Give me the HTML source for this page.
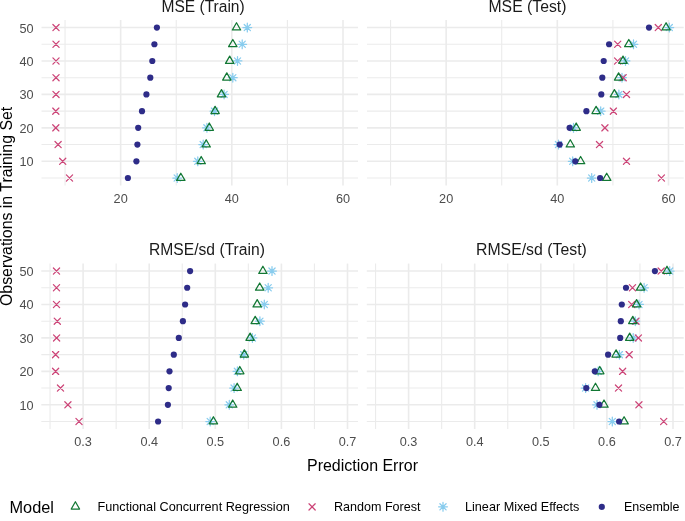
<!DOCTYPE html>
<html><head><meta charset="utf-8"><style>
html,body{margin:0;padding:0;background:#fff;}
body{width:685px;height:521px;overflow:hidden;}
svg{display:block;will-change:transform;font-family:"Liberation Sans",sans-serif;}
</style></head><body>
<svg width="685" height="521" viewBox="0 0 685 521">
<rect width="685" height="521" fill="#fff"/>
<line x1="65.05" y1="20.0" x2="65.05" y2="185.5" stroke="#EBEBEB" stroke-width="1.1"/>
<line x1="176.23" y1="20.0" x2="176.23" y2="185.5" stroke="#EBEBEB" stroke-width="1.1"/>
<line x1="287.41" y1="20.0" x2="287.41" y2="185.5" stroke="#EBEBEB" stroke-width="1.1"/>
<line x1="120.64" y1="20.0" x2="120.64" y2="185.5" stroke="#EBEBEB" stroke-width="1.6"/>
<line x1="231.82" y1="20.0" x2="231.82" y2="185.5" stroke="#EBEBEB" stroke-width="1.6"/>
<line x1="343.00" y1="20.0" x2="343.00" y2="185.5" stroke="#EBEBEB" stroke-width="1.6"/>
<line x1="41.5" y1="27.55" x2="358.0" y2="27.55" stroke="#EBEBEB" stroke-width="1.6"/>
<line x1="41.5" y1="44.27" x2="358.0" y2="44.27" stroke="#EBEBEB" stroke-width="1.1"/>
<line x1="41.5" y1="60.98" x2="358.0" y2="60.98" stroke="#EBEBEB" stroke-width="1.6"/>
<line x1="41.5" y1="77.70" x2="358.0" y2="77.70" stroke="#EBEBEB" stroke-width="1.1"/>
<line x1="41.5" y1="94.42" x2="358.0" y2="94.42" stroke="#EBEBEB" stroke-width="1.6"/>
<line x1="41.5" y1="111.14" x2="358.0" y2="111.14" stroke="#EBEBEB" stroke-width="1.1"/>
<line x1="41.5" y1="127.86" x2="358.0" y2="127.86" stroke="#EBEBEB" stroke-width="1.6"/>
<line x1="41.5" y1="144.57" x2="358.0" y2="144.57" stroke="#EBEBEB" stroke-width="1.1"/>
<line x1="41.5" y1="161.29" x2="358.0" y2="161.29" stroke="#EBEBEB" stroke-width="1.6"/>
<line x1="41.5" y1="178.01" x2="358.0" y2="178.01" stroke="#EBEBEB" stroke-width="1.1"/>
<path d="M244.20,24.45L250.40,30.65M244.20,30.65L250.40,24.45M242.92,27.55L251.68,27.55M247.30,23.17L247.30,31.93" stroke="#88CCEE" stroke-width="1.25" stroke-linecap="round" fill="none"/>
<path d="M239.10,41.17L245.30,47.37M239.10,47.37L245.30,41.17M237.82,44.27L246.58,44.27M242.20,39.88L242.20,48.65" stroke="#88CCEE" stroke-width="1.25" stroke-linecap="round" fill="none"/>
<path d="M234.40,57.88L240.60,64.08M234.40,64.08L240.60,57.88M233.12,60.98L241.88,60.98M237.50,56.60L237.50,65.37" stroke="#88CCEE" stroke-width="1.25" stroke-linecap="round" fill="none"/>
<path d="M229.70,74.60L235.90,80.80M229.70,80.80L235.90,74.60M228.42,77.70L237.18,77.70M232.80,73.32L232.80,82.09" stroke="#88CCEE" stroke-width="1.25" stroke-linecap="round" fill="none"/>
<path d="M221.00,91.32L227.20,97.52M221.00,97.52L227.20,91.32M219.72,94.42L228.48,94.42M224.10,90.04L224.10,98.80" stroke="#88CCEE" stroke-width="1.25" stroke-linecap="round" fill="none"/>
<path d="M211.40,108.04L217.60,114.24M211.40,114.24L217.60,108.04M210.12,111.14L218.88,111.14M214.50,106.75L214.50,115.52" stroke="#88CCEE" stroke-width="1.25" stroke-linecap="round" fill="none"/>
<path d="M203.80,124.76L210.00,130.96M203.80,130.96L210.00,124.76M202.52,127.86L211.28,127.86M206.90,123.47L206.90,132.24" stroke="#88CCEE" stroke-width="1.25" stroke-linecap="round" fill="none"/>
<path d="M200.10,141.47L206.30,147.67M200.10,147.67L206.30,141.47M198.82,144.57L207.58,144.57M203.20,140.19L203.20,148.96" stroke="#88CCEE" stroke-width="1.25" stroke-linecap="round" fill="none"/>
<path d="M194.70,158.19L200.90,164.39M194.70,164.39L200.90,158.19M193.42,161.29L202.18,161.29M197.80,156.91L197.80,165.67" stroke="#88CCEE" stroke-width="1.25" stroke-linecap="round" fill="none"/>
<path d="M174.10,174.91L180.30,181.11M174.10,181.11L180.30,174.91M172.82,178.01L181.58,178.01M177.20,173.62L177.20,182.39" stroke="#88CCEE" stroke-width="1.25" stroke-linecap="round" fill="none"/>
<path d="M52.90,24.45L59.10,30.65M52.90,30.65L59.10,24.45" stroke="#CC4477" stroke-width="1.25" stroke-linecap="round" fill="none"/>
<path d="M52.90,41.17L59.10,47.37M52.90,47.37L59.10,41.17" stroke="#CC4477" stroke-width="1.25" stroke-linecap="round" fill="none"/>
<path d="M52.90,57.88L59.10,64.08M52.90,64.08L59.10,57.88" stroke="#CC4477" stroke-width="1.25" stroke-linecap="round" fill="none"/>
<path d="M52.90,74.60L59.10,80.80M52.90,80.80L59.10,74.60" stroke="#CC4477" stroke-width="1.25" stroke-linecap="round" fill="none"/>
<path d="M52.90,91.32L59.10,97.52M52.90,97.52L59.10,91.32" stroke="#CC4477" stroke-width="1.25" stroke-linecap="round" fill="none"/>
<path d="M52.70,108.04L58.90,114.24M52.70,114.24L58.90,108.04" stroke="#CC4477" stroke-width="1.25" stroke-linecap="round" fill="none"/>
<path d="M52.70,124.76L58.90,130.96M52.70,130.96L58.90,124.76" stroke="#CC4477" stroke-width="1.25" stroke-linecap="round" fill="none"/>
<path d="M55.00,141.47L61.20,147.67M55.00,147.67L61.20,141.47" stroke="#CC4477" stroke-width="1.25" stroke-linecap="round" fill="none"/>
<path d="M59.60,158.19L65.80,164.39M59.60,164.39L65.80,158.19" stroke="#CC4477" stroke-width="1.25" stroke-linecap="round" fill="none"/>
<path d="M66.40,174.91L72.60,181.11M66.40,181.11L72.60,174.91" stroke="#CC4477" stroke-width="1.25" stroke-linecap="round" fill="none"/>
<polygon points="236.50,22.73 240.68,29.96 232.32,29.96" fill="none" stroke="#117733" stroke-width="1.25" stroke-linejoin="round"/>
<polygon points="232.80,39.45 236.98,46.68 228.62,46.68" fill="none" stroke="#117733" stroke-width="1.25" stroke-linejoin="round"/>
<polygon points="229.70,56.16 233.88,63.40 225.52,63.40" fill="none" stroke="#117733" stroke-width="1.25" stroke-linejoin="round"/>
<polygon points="226.80,72.88 230.98,80.11 222.62,80.11" fill="none" stroke="#117733" stroke-width="1.25" stroke-linejoin="round"/>
<polygon points="221.50,89.60 225.68,96.83 217.32,96.83" fill="none" stroke="#117733" stroke-width="1.25" stroke-linejoin="round"/>
<polygon points="215.10,106.32 219.28,113.55 210.92,113.55" fill="none" stroke="#117733" stroke-width="1.25" stroke-linejoin="round"/>
<polygon points="209.30,123.03 213.48,130.27 205.12,130.27" fill="none" stroke="#117733" stroke-width="1.25" stroke-linejoin="round"/>
<polygon points="206.20,139.75 210.38,146.98 202.02,146.98" fill="none" stroke="#117733" stroke-width="1.25" stroke-linejoin="round"/>
<polygon points="201.20,156.47 205.38,163.70 197.02,163.70" fill="none" stroke="#117733" stroke-width="1.25" stroke-linejoin="round"/>
<polygon points="180.80,173.19 184.98,180.42 176.62,180.42" fill="none" stroke="#117733" stroke-width="1.25" stroke-linejoin="round"/>
<circle cx="156.90" cy="27.55" r="3.10" fill="#2E2C88"/>
<circle cx="154.40" cy="44.27" r="3.10" fill="#2E2C88"/>
<circle cx="152.30" cy="60.98" r="3.10" fill="#2E2C88"/>
<circle cx="150.30" cy="77.70" r="3.10" fill="#2E2C88"/>
<circle cx="146.40" cy="94.42" r="3.10" fill="#2E2C88"/>
<circle cx="142.00" cy="111.14" r="3.10" fill="#2E2C88"/>
<circle cx="138.20" cy="127.86" r="3.10" fill="#2E2C88"/>
<circle cx="137.40" cy="144.57" r="3.10" fill="#2E2C88"/>
<circle cx="136.40" cy="161.29" r="3.10" fill="#2E2C88"/>
<circle cx="127.90" cy="178.01" r="3.10" fill="#2E2C88"/>
<line x1="390.55" y1="20.0" x2="390.55" y2="185.5" stroke="#EBEBEB" stroke-width="1.1"/>
<line x1="501.73" y1="20.0" x2="501.73" y2="185.5" stroke="#EBEBEB" stroke-width="1.1"/>
<line x1="612.91" y1="20.0" x2="612.91" y2="185.5" stroke="#EBEBEB" stroke-width="1.1"/>
<line x1="446.14" y1="20.0" x2="446.14" y2="185.5" stroke="#EBEBEB" stroke-width="1.6"/>
<line x1="557.32" y1="20.0" x2="557.32" y2="185.5" stroke="#EBEBEB" stroke-width="1.6"/>
<line x1="668.50" y1="20.0" x2="668.50" y2="185.5" stroke="#EBEBEB" stroke-width="1.6"/>
<line x1="367.0" y1="27.55" x2="683.7" y2="27.55" stroke="#EBEBEB" stroke-width="1.6"/>
<line x1="367.0" y1="44.27" x2="683.7" y2="44.27" stroke="#EBEBEB" stroke-width="1.1"/>
<line x1="367.0" y1="60.98" x2="683.7" y2="60.98" stroke="#EBEBEB" stroke-width="1.6"/>
<line x1="367.0" y1="77.70" x2="683.7" y2="77.70" stroke="#EBEBEB" stroke-width="1.1"/>
<line x1="367.0" y1="94.42" x2="683.7" y2="94.42" stroke="#EBEBEB" stroke-width="1.6"/>
<line x1="367.0" y1="111.14" x2="683.7" y2="111.14" stroke="#EBEBEB" stroke-width="1.1"/>
<line x1="367.0" y1="127.86" x2="683.7" y2="127.86" stroke="#EBEBEB" stroke-width="1.6"/>
<line x1="367.0" y1="144.57" x2="683.7" y2="144.57" stroke="#EBEBEB" stroke-width="1.1"/>
<line x1="367.0" y1="161.29" x2="683.7" y2="161.29" stroke="#EBEBEB" stroke-width="1.6"/>
<line x1="367.0" y1="178.01" x2="683.7" y2="178.01" stroke="#EBEBEB" stroke-width="1.1"/>
<path d="M666.20,24.45L672.40,30.65M666.20,30.65L672.40,24.45M664.92,27.55L673.68,27.55M669.30,23.17L669.30,31.93" stroke="#88CCEE" stroke-width="1.25" stroke-linecap="round" fill="none"/>
<path d="M630.40,41.17L636.60,47.37M630.40,47.37L636.60,41.17M629.12,44.27L637.88,44.27M633.50,39.88L633.50,48.65" stroke="#88CCEE" stroke-width="1.25" stroke-linecap="round" fill="none"/>
<path d="M622.40,57.88L628.60,64.08M622.40,64.08L628.60,57.88M621.12,60.98L629.88,60.98M625.50,56.60L625.50,65.37" stroke="#88CCEE" stroke-width="1.25" stroke-linecap="round" fill="none"/>
<path d="M618.90,74.60L625.10,80.80M618.90,80.80L625.10,74.60M617.62,77.70L626.38,77.70M622.00,73.32L622.00,82.09" stroke="#88CCEE" stroke-width="1.25" stroke-linecap="round" fill="none"/>
<path d="M615.80,91.32L622.00,97.52M615.80,97.52L622.00,91.32M614.52,94.42L623.28,94.42M618.90,90.04L618.90,98.80" stroke="#88CCEE" stroke-width="1.25" stroke-linecap="round" fill="none"/>
<path d="M597.60,108.04L603.80,114.24M597.60,114.24L603.80,108.04M596.32,111.14L605.08,111.14M600.70,106.75L600.70,115.52" stroke="#88CCEE" stroke-width="1.25" stroke-linecap="round" fill="none"/>
<path d="M570.40,124.76L576.60,130.96M570.40,130.96L576.60,124.76M569.12,127.86L577.88,127.86M573.50,123.47L573.50,132.24" stroke="#88CCEE" stroke-width="1.25" stroke-linecap="round" fill="none"/>
<path d="M555.40,141.47L561.60,147.67M555.40,147.67L561.60,141.47M554.12,144.57L562.88,144.57M558.50,140.19L558.50,148.96" stroke="#88CCEE" stroke-width="1.25" stroke-linecap="round" fill="none"/>
<path d="M569.60,158.19L575.80,164.39M569.60,164.39L575.80,158.19M568.32,161.29L577.08,161.29M572.70,156.91L572.70,165.67" stroke="#88CCEE" stroke-width="1.25" stroke-linecap="round" fill="none"/>
<path d="M588.60,174.91L594.80,181.11M588.60,181.11L594.80,174.91M587.32,178.01L596.08,178.01M591.70,173.62L591.70,182.39" stroke="#88CCEE" stroke-width="1.25" stroke-linecap="round" fill="none"/>
<path d="M655.20,24.45L661.40,30.65M655.20,30.65L661.40,24.45" stroke="#CC4477" stroke-width="1.25" stroke-linecap="round" fill="none"/>
<path d="M614.60,41.17L620.80,47.37M614.60,47.37L620.80,41.17" stroke="#CC4477" stroke-width="1.25" stroke-linecap="round" fill="none"/>
<path d="M614.50,57.88L620.70,64.08M614.50,64.08L620.70,57.88" stroke="#CC4477" stroke-width="1.25" stroke-linecap="round" fill="none"/>
<path d="M620.10,74.60L626.30,80.80M620.10,80.80L626.30,74.60" stroke="#CC4477" stroke-width="1.25" stroke-linecap="round" fill="none"/>
<path d="M623.40,91.32L629.60,97.52M623.40,97.52L629.60,91.32" stroke="#CC4477" stroke-width="1.25" stroke-linecap="round" fill="none"/>
<path d="M610.30,108.04L616.50,114.24M610.30,114.24L616.50,108.04" stroke="#CC4477" stroke-width="1.25" stroke-linecap="round" fill="none"/>
<path d="M601.80,124.76L608.00,130.96M601.80,130.96L608.00,124.76" stroke="#CC4477" stroke-width="1.25" stroke-linecap="round" fill="none"/>
<path d="M596.40,141.47L602.60,147.67M596.40,147.67L602.60,141.47" stroke="#CC4477" stroke-width="1.25" stroke-linecap="round" fill="none"/>
<path d="M623.40,158.19L629.60,164.39M623.40,164.39L629.60,158.19" stroke="#CC4477" stroke-width="1.25" stroke-linecap="round" fill="none"/>
<path d="M658.30,174.91L664.50,181.11M658.30,181.11L664.50,174.91" stroke="#CC4477" stroke-width="1.25" stroke-linecap="round" fill="none"/>
<polygon points="666.10,22.73 670.28,29.96 661.92,29.96" fill="none" stroke="#117733" stroke-width="1.25" stroke-linejoin="round"/>
<polygon points="628.80,39.45 632.98,46.68 624.62,46.68" fill="none" stroke="#117733" stroke-width="1.25" stroke-linejoin="round"/>
<polygon points="623.00,56.16 627.18,63.40 618.82,63.40" fill="none" stroke="#117733" stroke-width="1.25" stroke-linejoin="round"/>
<polygon points="618.60,72.88 622.78,80.11 614.42,80.11" fill="none" stroke="#117733" stroke-width="1.25" stroke-linejoin="round"/>
<polygon points="614.40,89.60 618.58,96.83 610.22,96.83" fill="none" stroke="#117733" stroke-width="1.25" stroke-linejoin="round"/>
<polygon points="596.10,106.32 600.28,113.55 591.92,113.55" fill="none" stroke="#117733" stroke-width="1.25" stroke-linejoin="round"/>
<polygon points="576.20,123.03 580.38,130.27 572.02,130.27" fill="none" stroke="#117733" stroke-width="1.25" stroke-linejoin="round"/>
<polygon points="570.30,139.75 574.48,146.98 566.12,146.98" fill="none" stroke="#117733" stroke-width="1.25" stroke-linejoin="round"/>
<polygon points="580.60,156.47 584.78,163.70 576.42,163.70" fill="none" stroke="#117733" stroke-width="1.25" stroke-linejoin="round"/>
<polygon points="606.70,173.19 610.88,180.42 602.52,180.42" fill="none" stroke="#117733" stroke-width="1.25" stroke-linejoin="round"/>
<circle cx="649.00" cy="27.55" r="3.10" fill="#2E2C88"/>
<circle cx="609.10" cy="44.27" r="3.10" fill="#2E2C88"/>
<circle cx="603.70" cy="60.98" r="3.10" fill="#2E2C88"/>
<circle cx="602.30" cy="77.70" r="3.10" fill="#2E2C88"/>
<circle cx="601.30" cy="94.42" r="3.10" fill="#2E2C88"/>
<circle cx="586.40" cy="111.14" r="3.10" fill="#2E2C88"/>
<circle cx="569.60" cy="127.86" r="3.10" fill="#2E2C88"/>
<circle cx="559.70" cy="144.57" r="3.10" fill="#2E2C88"/>
<circle cx="575.30" cy="161.29" r="3.10" fill="#2E2C88"/>
<circle cx="600.10" cy="178.01" r="3.10" fill="#2E2C88"/>
<line x1="50.05" y1="263.55" x2="50.05" y2="429.0" stroke="#EBEBEB" stroke-width="1.1"/>
<line x1="116.15" y1="263.55" x2="116.15" y2="429.0" stroke="#EBEBEB" stroke-width="1.1"/>
<line x1="182.25" y1="263.55" x2="182.25" y2="429.0" stroke="#EBEBEB" stroke-width="1.1"/>
<line x1="248.35" y1="263.55" x2="248.35" y2="429.0" stroke="#EBEBEB" stroke-width="1.1"/>
<line x1="314.45" y1="263.55" x2="314.45" y2="429.0" stroke="#EBEBEB" stroke-width="1.1"/>
<line x1="83.10" y1="263.55" x2="83.10" y2="429.0" stroke="#EBEBEB" stroke-width="1.6"/>
<line x1="149.20" y1="263.55" x2="149.20" y2="429.0" stroke="#EBEBEB" stroke-width="1.6"/>
<line x1="215.30" y1="263.55" x2="215.30" y2="429.0" stroke="#EBEBEB" stroke-width="1.6"/>
<line x1="281.40" y1="263.55" x2="281.40" y2="429.0" stroke="#EBEBEB" stroke-width="1.6"/>
<line x1="347.50" y1="263.55" x2="347.50" y2="429.0" stroke="#EBEBEB" stroke-width="1.6"/>
<line x1="41.3" y1="271.05" x2="358.0" y2="271.05" stroke="#EBEBEB" stroke-width="1.6"/>
<line x1="41.3" y1="287.77" x2="358.0" y2="287.77" stroke="#EBEBEB" stroke-width="1.1"/>
<line x1="41.3" y1="304.49" x2="358.0" y2="304.49" stroke="#EBEBEB" stroke-width="1.6"/>
<line x1="41.3" y1="321.20" x2="358.0" y2="321.20" stroke="#EBEBEB" stroke-width="1.1"/>
<line x1="41.3" y1="337.92" x2="358.0" y2="337.92" stroke="#EBEBEB" stroke-width="1.6"/>
<line x1="41.3" y1="354.64" x2="358.0" y2="354.64" stroke="#EBEBEB" stroke-width="1.1"/>
<line x1="41.3" y1="371.36" x2="358.0" y2="371.36" stroke="#EBEBEB" stroke-width="1.6"/>
<line x1="41.3" y1="388.07" x2="358.0" y2="388.07" stroke="#EBEBEB" stroke-width="1.1"/>
<line x1="41.3" y1="404.79" x2="358.0" y2="404.79" stroke="#EBEBEB" stroke-width="1.6"/>
<line x1="41.3" y1="421.51" x2="358.0" y2="421.51" stroke="#EBEBEB" stroke-width="1.1"/>
<path d="M268.90,267.95L275.10,274.15M268.90,274.15L275.10,267.95M267.62,271.05L276.38,271.05M272.00,266.67L272.00,275.43" stroke="#88CCEE" stroke-width="1.25" stroke-linecap="round" fill="none"/>
<path d="M265.10,284.67L271.30,290.87M265.10,290.87L271.30,284.67M263.82,287.77L272.58,287.77M268.20,283.38L268.20,292.15" stroke="#88CCEE" stroke-width="1.25" stroke-linecap="round" fill="none"/>
<path d="M261.20,301.38L267.40,307.59M261.20,307.59L267.40,301.38M259.92,304.49L268.68,304.49M264.30,300.10L264.30,308.87" stroke="#88CCEE" stroke-width="1.25" stroke-linecap="round" fill="none"/>
<path d="M256.80,318.10L263.00,324.30M256.80,324.30L263.00,318.10M255.52,321.20L264.28,321.20M259.90,316.82L259.90,325.59" stroke="#88CCEE" stroke-width="1.25" stroke-linecap="round" fill="none"/>
<path d="M249.30,334.82L255.50,341.02M249.30,341.02L255.50,334.82M248.02,337.92L256.78,337.92M252.40,333.54L252.40,342.30" stroke="#88CCEE" stroke-width="1.25" stroke-linecap="round" fill="none"/>
<path d="M240.60,351.54L246.80,357.74M240.60,357.74L246.80,351.54M239.32,354.64L248.08,354.64M243.70,350.25L243.70,359.02" stroke="#88CCEE" stroke-width="1.25" stroke-linecap="round" fill="none"/>
<path d="M234.30,368.25L240.50,374.46M234.30,374.46L240.50,368.25M233.02,371.36L241.78,371.36M237.40,366.97L237.40,375.74" stroke="#88CCEE" stroke-width="1.25" stroke-linecap="round" fill="none"/>
<path d="M231.00,384.97L237.20,391.17M231.00,391.17L237.20,384.97M229.72,388.07L238.48,388.07M234.10,383.69L234.10,392.46" stroke="#88CCEE" stroke-width="1.25" stroke-linecap="round" fill="none"/>
<path d="M226.20,401.69L232.40,407.89M226.20,407.89L232.40,401.69M224.92,404.79L233.68,404.79M229.30,400.41L229.30,409.17" stroke="#88CCEE" stroke-width="1.25" stroke-linecap="round" fill="none"/>
<path d="M207.10,418.41L213.30,424.61M207.10,424.61L213.30,418.41M205.82,421.51L214.58,421.51M210.20,417.12L210.20,425.89" stroke="#88CCEE" stroke-width="1.25" stroke-linecap="round" fill="none"/>
<path d="M53.40,267.95L59.60,274.15M53.40,274.15L59.60,267.95" stroke="#CC4477" stroke-width="1.25" stroke-linecap="round" fill="none"/>
<path d="M53.40,284.67L59.60,290.87M53.40,290.87L59.60,284.67" stroke="#CC4477" stroke-width="1.25" stroke-linecap="round" fill="none"/>
<path d="M53.40,301.38L59.60,307.59M53.40,307.59L59.60,301.38" stroke="#CC4477" stroke-width="1.25" stroke-linecap="round" fill="none"/>
<path d="M54.20,318.10L60.40,324.30M54.20,324.30L60.40,318.10" stroke="#CC4477" stroke-width="1.25" stroke-linecap="round" fill="none"/>
<path d="M53.50,334.82L59.70,341.02M53.50,341.02L59.70,334.82" stroke="#CC4477" stroke-width="1.25" stroke-linecap="round" fill="none"/>
<path d="M52.50,351.54L58.70,357.74M52.50,357.74L58.70,351.54" stroke="#CC4477" stroke-width="1.25" stroke-linecap="round" fill="none"/>
<path d="M52.50,368.25L58.70,374.46M52.50,374.46L58.70,368.25" stroke="#CC4477" stroke-width="1.25" stroke-linecap="round" fill="none"/>
<path d="M57.40,384.97L63.60,391.17M57.40,391.17L63.60,384.97" stroke="#CC4477" stroke-width="1.25" stroke-linecap="round" fill="none"/>
<path d="M64.80,401.69L71.00,407.89M64.80,407.89L71.00,401.69" stroke="#CC4477" stroke-width="1.25" stroke-linecap="round" fill="none"/>
<path d="M75.90,418.41L82.10,424.61M75.90,424.61L82.10,418.41" stroke="#CC4477" stroke-width="1.25" stroke-linecap="round" fill="none"/>
<polygon points="262.90,266.23 267.08,273.46 258.72,273.46" fill="none" stroke="#117733" stroke-width="1.25" stroke-linejoin="round"/>
<polygon points="259.70,282.95 263.88,290.18 255.52,290.18" fill="none" stroke="#117733" stroke-width="1.25" stroke-linejoin="round"/>
<polygon points="257.20,299.66 261.38,306.90 253.02,306.90" fill="none" stroke="#117733" stroke-width="1.25" stroke-linejoin="round"/>
<polygon points="255.20,316.38 259.38,323.61 251.02,323.61" fill="none" stroke="#117733" stroke-width="1.25" stroke-linejoin="round"/>
<polygon points="250.10,333.10 254.28,340.33 245.92,340.33" fill="none" stroke="#117733" stroke-width="1.25" stroke-linejoin="round"/>
<polygon points="244.40,349.82 248.58,357.05 240.22,357.05" fill="none" stroke="#117733" stroke-width="1.25" stroke-linejoin="round"/>
<polygon points="239.80,366.53 243.98,373.77 235.62,373.77" fill="none" stroke="#117733" stroke-width="1.25" stroke-linejoin="round"/>
<polygon points="237.20,383.25 241.38,390.48 233.02,390.48" fill="none" stroke="#117733" stroke-width="1.25" stroke-linejoin="round"/>
<polygon points="232.70,399.97 236.88,407.20 228.52,407.20" fill="none" stroke="#117733" stroke-width="1.25" stroke-linejoin="round"/>
<polygon points="213.40,416.69 217.58,423.92 209.22,423.92" fill="none" stroke="#117733" stroke-width="1.25" stroke-linejoin="round"/>
<circle cx="190.10" cy="271.05" r="3.10" fill="#2E2C88"/>
<circle cx="187.20" cy="287.77" r="3.10" fill="#2E2C88"/>
<circle cx="185.10" cy="304.49" r="3.10" fill="#2E2C88"/>
<circle cx="182.90" cy="321.20" r="3.10" fill="#2E2C88"/>
<circle cx="178.80" cy="337.92" r="3.10" fill="#2E2C88"/>
<circle cx="173.80" cy="354.64" r="3.10" fill="#2E2C88"/>
<circle cx="169.50" cy="371.36" r="3.10" fill="#2E2C88"/>
<circle cx="168.70" cy="388.07" r="3.10" fill="#2E2C88"/>
<circle cx="167.90" cy="404.79" r="3.10" fill="#2E2C88"/>
<circle cx="158.10" cy="421.51" r="3.10" fill="#2E2C88"/>
<line x1="375.55" y1="263.55" x2="375.55" y2="429.0" stroke="#EBEBEB" stroke-width="1.1"/>
<line x1="441.65" y1="263.55" x2="441.65" y2="429.0" stroke="#EBEBEB" stroke-width="1.1"/>
<line x1="507.75" y1="263.55" x2="507.75" y2="429.0" stroke="#EBEBEB" stroke-width="1.1"/>
<line x1="573.85" y1="263.55" x2="573.85" y2="429.0" stroke="#EBEBEB" stroke-width="1.1"/>
<line x1="639.95" y1="263.55" x2="639.95" y2="429.0" stroke="#EBEBEB" stroke-width="1.1"/>
<line x1="408.60" y1="263.55" x2="408.60" y2="429.0" stroke="#EBEBEB" stroke-width="1.6"/>
<line x1="474.70" y1="263.55" x2="474.70" y2="429.0" stroke="#EBEBEB" stroke-width="1.6"/>
<line x1="540.80" y1="263.55" x2="540.80" y2="429.0" stroke="#EBEBEB" stroke-width="1.6"/>
<line x1="606.90" y1="263.55" x2="606.90" y2="429.0" stroke="#EBEBEB" stroke-width="1.6"/>
<line x1="673.00" y1="263.55" x2="673.00" y2="429.0" stroke="#EBEBEB" stroke-width="1.6"/>
<line x1="366.8" y1="271.05" x2="683.7" y2="271.05" stroke="#EBEBEB" stroke-width="1.6"/>
<line x1="366.8" y1="287.77" x2="683.7" y2="287.77" stroke="#EBEBEB" stroke-width="1.1"/>
<line x1="366.8" y1="304.49" x2="683.7" y2="304.49" stroke="#EBEBEB" stroke-width="1.6"/>
<line x1="366.8" y1="321.20" x2="683.7" y2="321.20" stroke="#EBEBEB" stroke-width="1.1"/>
<line x1="366.8" y1="337.92" x2="683.7" y2="337.92" stroke="#EBEBEB" stroke-width="1.6"/>
<line x1="366.8" y1="354.64" x2="683.7" y2="354.64" stroke="#EBEBEB" stroke-width="1.1"/>
<line x1="366.8" y1="371.36" x2="683.7" y2="371.36" stroke="#EBEBEB" stroke-width="1.6"/>
<line x1="366.8" y1="388.07" x2="683.7" y2="388.07" stroke="#EBEBEB" stroke-width="1.1"/>
<line x1="366.8" y1="404.79" x2="683.7" y2="404.79" stroke="#EBEBEB" stroke-width="1.6"/>
<line x1="366.8" y1="421.51" x2="683.7" y2="421.51" stroke="#EBEBEB" stroke-width="1.1"/>
<path d="M666.60,267.95L672.80,274.15M666.60,274.15L672.80,267.95M665.32,271.05L674.08,271.05M669.70,266.67L669.70,275.43" stroke="#88CCEE" stroke-width="1.25" stroke-linecap="round" fill="none"/>
<path d="M641.00,284.67L647.20,290.87M641.00,290.87L647.20,284.67M639.72,287.77L648.48,287.77M644.10,283.38L644.10,292.15" stroke="#88CCEE" stroke-width="1.25" stroke-linecap="round" fill="none"/>
<path d="M635.90,301.38L642.10,307.59M635.90,307.59L642.10,301.38M634.62,304.49L643.38,304.49M639.00,300.10L639.00,308.87" stroke="#88CCEE" stroke-width="1.25" stroke-linecap="round" fill="none"/>
<path d="M632.20,318.10L638.40,324.30M632.20,324.30L638.40,318.10M630.92,321.20L639.68,321.20M635.30,316.82L635.30,325.59" stroke="#88CCEE" stroke-width="1.25" stroke-linecap="round" fill="none"/>
<path d="M630.10,334.82L636.30,341.02M630.10,341.02L636.30,334.82M628.82,337.92L637.58,337.92M633.20,333.54L633.20,342.30" stroke="#88CCEE" stroke-width="1.25" stroke-linecap="round" fill="none"/>
<path d="M616.30,351.54L622.50,357.74M616.30,357.74L622.50,351.54M615.02,354.64L623.78,354.64M619.40,350.25L619.40,359.02" stroke="#88CCEE" stroke-width="1.25" stroke-linecap="round" fill="none"/>
<path d="M595.10,368.25L601.30,374.46M595.10,374.46L601.30,368.25M593.82,371.36L602.58,371.36M598.20,366.97L598.20,375.74" stroke="#88CCEE" stroke-width="1.25" stroke-linecap="round" fill="none"/>
<path d="M582.50,384.97L588.70,391.17M582.50,391.17L588.70,384.97M581.22,388.07L589.98,388.07M585.60,383.69L585.60,392.46" stroke="#88CCEE" stroke-width="1.25" stroke-linecap="round" fill="none"/>
<path d="M593.90,401.69L600.10,407.89M593.90,407.89L600.10,401.69M592.62,404.79L601.38,404.79M597.00,400.41L597.00,409.17" stroke="#88CCEE" stroke-width="1.25" stroke-linecap="round" fill="none"/>
<path d="M609.20,418.41L615.40,424.61M609.20,424.61L615.40,418.41M607.92,421.51L616.68,421.51M612.30,417.12L612.30,425.89" stroke="#88CCEE" stroke-width="1.25" stroke-linecap="round" fill="none"/>
<path d="M658.10,267.95L664.30,274.15M658.10,274.15L664.30,267.95" stroke="#CC4477" stroke-width="1.25" stroke-linecap="round" fill="none"/>
<path d="M629.40,284.67L635.60,290.87M629.40,290.87L635.60,284.67" stroke="#CC4477" stroke-width="1.25" stroke-linecap="round" fill="none"/>
<path d="M628.60,301.38L634.80,307.59M628.60,307.59L634.80,301.38" stroke="#CC4477" stroke-width="1.25" stroke-linecap="round" fill="none"/>
<path d="M632.90,318.10L639.10,324.30M632.90,324.30L639.10,318.10" stroke="#CC4477" stroke-width="1.25" stroke-linecap="round" fill="none"/>
<path d="M635.30,334.82L641.50,341.02M635.30,341.02L641.50,334.82" stroke="#CC4477" stroke-width="1.25" stroke-linecap="round" fill="none"/>
<path d="M626.10,351.54L632.30,357.74M626.10,357.74L632.30,351.54" stroke="#CC4477" stroke-width="1.25" stroke-linecap="round" fill="none"/>
<path d="M619.50,368.25L625.70,374.46M619.50,374.46L625.70,368.25" stroke="#CC4477" stroke-width="1.25" stroke-linecap="round" fill="none"/>
<path d="M615.40,384.97L621.60,391.17M615.40,391.17L621.60,384.97" stroke="#CC4477" stroke-width="1.25" stroke-linecap="round" fill="none"/>
<path d="M635.80,401.69L642.00,407.89M635.80,407.89L642.00,401.69" stroke="#CC4477" stroke-width="1.25" stroke-linecap="round" fill="none"/>
<path d="M660.60,418.41L666.80,424.61M660.60,424.61L666.80,418.41" stroke="#CC4477" stroke-width="1.25" stroke-linecap="round" fill="none"/>
<polygon points="667.00,266.23 671.18,273.46 662.82,273.46" fill="none" stroke="#117733" stroke-width="1.25" stroke-linejoin="round"/>
<polygon points="640.60,282.95 644.78,290.18 636.42,290.18" fill="none" stroke="#117733" stroke-width="1.25" stroke-linejoin="round"/>
<polygon points="636.60,299.66 640.78,306.90 632.42,306.90" fill="none" stroke="#117733" stroke-width="1.25" stroke-linejoin="round"/>
<polygon points="632.80,316.38 636.98,323.61 628.62,323.61" fill="none" stroke="#117733" stroke-width="1.25" stroke-linejoin="round"/>
<polygon points="629.70,333.10 633.88,340.33 625.52,340.33" fill="none" stroke="#117733" stroke-width="1.25" stroke-linejoin="round"/>
<polygon points="616.10,349.82 620.28,357.05 611.92,357.05" fill="none" stroke="#117733" stroke-width="1.25" stroke-linejoin="round"/>
<polygon points="599.80,366.53 603.98,373.77 595.62,373.77" fill="none" stroke="#117733" stroke-width="1.25" stroke-linejoin="round"/>
<polygon points="595.50,383.25 599.68,390.48 591.32,390.48" fill="none" stroke="#117733" stroke-width="1.25" stroke-linejoin="round"/>
<polygon points="604.00,399.97 608.18,407.20 599.82,407.20" fill="none" stroke="#117733" stroke-width="1.25" stroke-linejoin="round"/>
<polygon points="624.10,416.69 628.28,423.92 619.92,423.92" fill="none" stroke="#117733" stroke-width="1.25" stroke-linejoin="round"/>
<circle cx="654.90" cy="271.05" r="3.10" fill="#2E2C88"/>
<circle cx="626.00" cy="287.77" r="3.10" fill="#2E2C88"/>
<circle cx="621.80" cy="304.49" r="3.10" fill="#2E2C88"/>
<circle cx="620.80" cy="321.20" r="3.10" fill="#2E2C88"/>
<circle cx="620.20" cy="337.92" r="3.10" fill="#2E2C88"/>
<circle cx="608.10" cy="354.64" r="3.10" fill="#2E2C88"/>
<circle cx="594.80" cy="371.36" r="3.10" fill="#2E2C88"/>
<circle cx="586.30" cy="388.07" r="3.10" fill="#2E2C88"/>
<circle cx="599.40" cy="404.79" r="3.10" fill="#2E2C88"/>
<circle cx="619.10" cy="421.51" r="3.10" fill="#2E2C88"/>
<polygon points="75.40,501.78 79.58,509.01 71.22,509.01" fill="none" stroke="#117733" stroke-width="1.25" stroke-linejoin="round"/>
<path d="M309.00,503.80L315.20,510.00M309.00,510.00L315.20,503.80" stroke="#CC4477" stroke-width="1.25" stroke-linecap="round" fill="none"/>
<path d="M439.90,503.70L446.10,509.90M439.90,509.90L446.10,503.70M438.62,506.80L447.38,506.80M443.00,502.42L443.00,511.18" stroke="#88CCEE" stroke-width="1.25" stroke-linecap="round" fill="none"/>
<circle cx="601.80" cy="506.90" r="3.10" fill="#2E2C88"/>
<text x="0" y="0" font-size="12.7" fill="#4D4D4D" text-anchor="end" transform="translate(33.60,32.55) scale(1,1.05)">50</text>
<text x="0" y="0" font-size="12.7" fill="#4D4D4D" text-anchor="end" transform="translate(33.60,65.98) scale(1,1.05)">40</text>
<text x="0" y="0" font-size="12.7" fill="#4D4D4D" text-anchor="end" transform="translate(33.60,99.42) scale(1,1.05)">30</text>
<text x="0" y="0" font-size="12.7" fill="#4D4D4D" text-anchor="end" transform="translate(33.60,132.86) scale(1,1.05)">20</text>
<text x="0" y="0" font-size="12.7" fill="#4D4D4D" text-anchor="end" transform="translate(33.60,166.29) scale(1,1.05)">10</text>
<text x="0" y="0" font-size="12.7" fill="#4D4D4D" text-anchor="end" transform="translate(33.60,276.05) scale(1,1.05)">50</text>
<text x="0" y="0" font-size="12.7" fill="#4D4D4D" text-anchor="end" transform="translate(33.60,309.49) scale(1,1.05)">40</text>
<text x="0" y="0" font-size="12.7" fill="#4D4D4D" text-anchor="end" transform="translate(33.60,342.92) scale(1,1.05)">30</text>
<text x="0" y="0" font-size="12.7" fill="#4D4D4D" text-anchor="end" transform="translate(33.60,376.36) scale(1,1.05)">20</text>
<text x="0" y="0" font-size="12.7" fill="#4D4D4D" text-anchor="end" transform="translate(33.60,409.79) scale(1,1.05)">10</text>
<text x="0" y="0" font-size="12.7" fill="#4D4D4D" text-anchor="middle" transform="translate(120.64,202.80) scale(1,1.05)">20</text>
<text x="0" y="0" font-size="12.7" fill="#4D4D4D" text-anchor="middle" transform="translate(231.82,202.80) scale(1,1.05)">40</text>
<text x="0" y="0" font-size="12.7" fill="#4D4D4D" text-anchor="middle" transform="translate(343.00,202.80) scale(1,1.05)">60</text>
<text x="0" y="0" font-size="12.7" fill="#4D4D4D" text-anchor="middle" transform="translate(446.14,202.80) scale(1,1.05)">20</text>
<text x="0" y="0" font-size="12.7" fill="#4D4D4D" text-anchor="middle" transform="translate(557.32,202.80) scale(1,1.05)">40</text>
<text x="0" y="0" font-size="12.7" fill="#4D4D4D" text-anchor="middle" transform="translate(668.50,202.80) scale(1,1.05)">60</text>
<text x="0" y="0" font-size="12.7" fill="#4D4D4D" text-anchor="middle" transform="translate(83.10,446.10) scale(1,1.05)">0.3</text>
<text x="0" y="0" font-size="12.7" fill="#4D4D4D" text-anchor="middle" transform="translate(149.20,446.10) scale(1,1.05)">0.4</text>
<text x="0" y="0" font-size="12.7" fill="#4D4D4D" text-anchor="middle" transform="translate(215.30,446.10) scale(1,1.05)">0.5</text>
<text x="0" y="0" font-size="12.7" fill="#4D4D4D" text-anchor="middle" transform="translate(281.40,446.10) scale(1,1.05)">0.6</text>
<text x="0" y="0" font-size="12.7" fill="#4D4D4D" text-anchor="middle" transform="translate(347.50,446.10) scale(1,1.05)">0.7</text>
<text x="0" y="0" font-size="12.7" fill="#4D4D4D" text-anchor="middle" transform="translate(408.60,446.10) scale(1,1.05)">0.3</text>
<text x="0" y="0" font-size="12.7" fill="#4D4D4D" text-anchor="middle" transform="translate(474.70,446.10) scale(1,1.05)">0.4</text>
<text x="0" y="0" font-size="12.7" fill="#4D4D4D" text-anchor="middle" transform="translate(540.80,446.10) scale(1,1.05)">0.5</text>
<text x="0" y="0" font-size="12.7" fill="#4D4D4D" text-anchor="middle" transform="translate(606.90,446.10) scale(1,1.05)">0.6</text>
<text x="0" y="0" font-size="12.7" fill="#4D4D4D" text-anchor="middle" transform="translate(673.00,446.10) scale(1,1.05)">0.7</text>
<text x="161.50" y="11.70" font-size="16" fill="#1A1A1A" textLength="83.19" lengthAdjust="spacingAndGlyphs">MSE (Train)</text>
<text x="488.50" y="11.70" font-size="16" fill="#1A1A1A" textLength="77.90" lengthAdjust="spacingAndGlyphs">MSE (Test)</text>
<text x="149.00" y="255.10" font-size="16" fill="#1A1A1A" textLength="115.90" lengthAdjust="spacingAndGlyphs">RMSE/sd (Train)</text>
<text x="476.00" y="255.10" font-size="16" fill="#1A1A1A" textLength="110.80" lengthAdjust="spacingAndGlyphs">RMSE/sd (Test)</text>
<text x="307.00" y="471.00" font-size="16" fill="#000000" textLength="110.96" lengthAdjust="spacingAndGlyphs">Prediction Error</text>
<text x="9.50" y="512.50" font-size="16" fill="#000000" textLength="44.41" lengthAdjust="spacingAndGlyphs">Model</text>
<text x="97.50" y="510.90" font-size="12.75" fill="#000000" textLength="192.28" lengthAdjust="spacingAndGlyphs">Functional Concurrent Regression</text>
<text x="334.00" y="510.90" font-size="12.75" fill="#000000" textLength="86.48" lengthAdjust="spacingAndGlyphs">Random Forest</text>
<text x="465.00" y="510.90" font-size="12.75" fill="#000000" textLength="114.27" lengthAdjust="spacingAndGlyphs">Linear Mixed Effects</text>
<text x="624.00" y="510.90" font-size="12.75" fill="#000000" textLength="55.49" lengthAdjust="spacingAndGlyphs">Ensemble</text>
<text x="-1.00" y="0" font-size="16" fill="#000000" textLength="199.19" lengthAdjust="spacingAndGlyphs" transform="translate(12.30,305.00) rotate(-90)">Observations in Training Set</text>
</svg>
</body></html>
